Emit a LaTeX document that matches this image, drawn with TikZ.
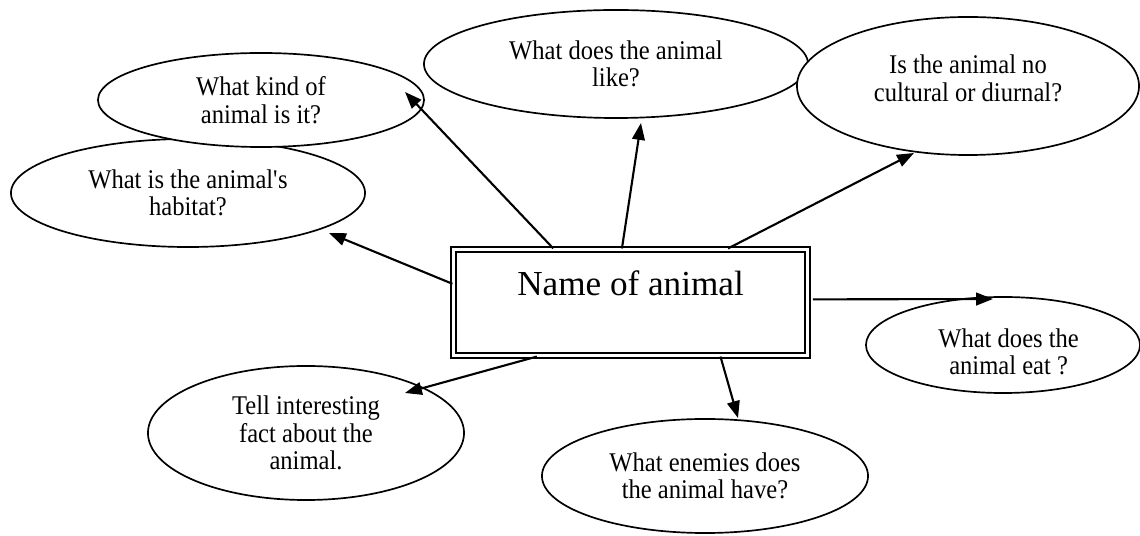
\documentclass[tikz,border=0pt]{standalone}
\usepackage{fontspec}
\setmainfont{Liberation Serif}
\newfontfamily\askfont[FakeStretch=0.91]{Liberation Serif}
\usetikzlibrary{arrows.meta,shapes.geometric,calc}

\begin{document}
\begin{tikzpicture}[x=0.025cm, y=-0.025cm, >={Triangle[length=12pt,width=9pt]},
	question/.style={ellipse, draw, fill=white, line width=1.2pt, inner sep=0pt, align=center, font=\askfont\fontsize{19.2}{19.5}\selectfont},
	link/.style={->, line width=1.5pt}]
	\useasboundingbox (0,0) rectangle (1140,536);
	\node[draw, double, line width=1.5pt, double distance=2.2pt, inner sep=0pt, minimum width=8.85cm, text height=1.1625cm, text depth=1.4875cm, font=\fontsize{25}{30}\selectfont] (animal) at (630.5,302.5) {Name of animal};
	\node[question, minimum width=8.85cm, minimum height=2.7cm] (habitat) at (188,193) {What is the animal\textquotesingle s\\habitat?};
	\node[question, minimum width=8.15cm, minimum height=2.35cm] (kind) at (261,100) {What kind of\\animal is it?};
	\node[question, minimum width=9.6cm, minimum height=2.7cm] (like) at (616,64) {What does the animal\\like?};
	\node[question, minimum width=8.55cm, minimum height=3.45cm] (nocturnal) at (968,86) {Is the animal no\\cultural or diurnal?\rule[-11pt]{0pt}{0pt}};
	\node[question, minimum width=6.85cm, minimum height=2.4cm] (eat) at (1003,345) {\rule{0pt}{23pt}\hspace*{8pt}What does the\\\hspace*{8pt}animal eat ?};
	\node[question, minimum width=7.9cm, minimum height=3.35cm] (fact) at (306,433) {Tell interesting\\fact about the\\animal.};
	\node[question, minimum width=8.15cm, minimum height=2.85cm] (enemies) at (705,476) {What enemies does\\the animal have?};
	\draw[link] (animal.145) -- ($(kind.center)+(144,-8)$);
	\draw[link] (animal.174.5) -- ($(habitat.center)+(141,40)$);
	\draw[link] (animal.99.5) -- ($(like.center)+(25,59)$);
	\draw[link] (animal.29.6) -- ($(nocturnal.center)+(-54,67)$);
	\draw[link, shorten <=3pt] (animal.1.1) -- ($(eat.center)+(-10,-46)$);
	\draw[link] (animal.210.1) -- ($(fact.center)+(99,-40)$);
	\draw[link] (animal.329.9) -- ($(enemies.center)+(33,-58)$);
\end{tikzpicture}
\end{document}
